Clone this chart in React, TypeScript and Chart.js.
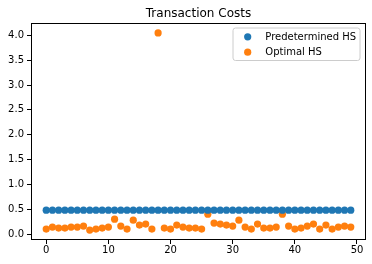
import { useEffect, useRef } from "react";
import { Chart, registerables } from "chart.js";

Chart.register(...registerables);

const chartTitle = "Transaction Costs";
const seriesNames = ["Predetermined HS", "Optimal HS"];
const seriesColors = ["#1f77b4", "#ff7f0e"];

const steps = [
  0, 1, 2, 3, 4, 5, 6, 7, 8, 9,
  10, 11, 12, 13, 14, 15, 16, 17, 18, 19,
  20, 21, 22, 23, 24, 25, 26, 27, 28, 29,
  30, 31, 32, 33, 34, 35, 36, 37, 38, 39,
  40, 41, 42, 43, 44, 45, 46, 47, 48, 49,
];

const predeterminedCosts = [
  0.48, 0.48, 0.48, 0.48, 0.48, 0.48, 0.48, 0.48, 0.48, 0.48,
  0.48, 0.48, 0.48, 0.48, 0.48, 0.48, 0.48, 0.48, 0.48, 0.48,
  0.48, 0.48, 0.48, 0.48, 0.48, 0.48, 0.48, 0.48, 0.48, 0.48,
  0.48, 0.48, 0.48, 0.48, 0.48, 0.48, 0.48, 0.48, 0.48, 0.48,
  0.48, 0.48, 0.48, 0.48, 0.48, 0.48, 0.48, 0.48, 0.48, 0.48,
];

const optimalCosts = [
  0.1, 0.14, 0.12, 0.12, 0.14, 0.14, 0.16, 0.08, 0.1, 0.12,
  0.14, 0.3, 0.16, 0.1, 0.28, 0.18, 0.2, 0.1, 4.05, 0.12,
  0.1, 0.18, 0.14, 0.12, 0.12, 0.1, 0.4, 0.22, 0.2, 0.18,
  0.16, 0.28, 0.14, 0.1, 0.2, 0.12, 0.12, 0.14, 0.4, 0.16,
  0.1, 0.12, 0.16, 0.2, 0.1, 0.18, 0.1, 0.14, 0.16, 0.14,
];

const xTickValues = [0, 10, 20, 30, 40, 50];
const yTickValues = [0, 0.5, 1, 1.5, 2, 2.5, 3, 3.5, 4];

const FONT = "'DejaVu Sans', sans-serif";

export default function App() {
  const ref = useRef<HTMLCanvasElement | null>(null);

  useEffect(() => {
    document.body.style.margin = "0";
    const canvas = ref.current;
    if (!canvas) return;

    const decorPlugin = {
      id: "decor",
      afterDraw(chart: any) {
        const { ctx, chartArea: a } = chart;
        ctx.save();
        ctx.strokeStyle = "#000";
        ctx.lineWidth = 1;
        const l = Math.round(a.left) + 0.5;
        const t = Math.round(a.top) + 0.5;
        const r = Math.round(a.right) - 0.5;
        const b = Math.round(a.bottom) - 0.5;
        ctx.strokeRect(l, t, r - l, b - t);

        ctx.fillStyle = "#000";
        ctx.font = `12px ${FONT}`;
        ctx.textAlign = "center";
        ctx.textBaseline = "alphabetic";
        ctx.fillText(chartTitle, (a.left + a.right) / 2, a.top - 6);

        const bx = a.right - 133;
        const by = a.top + 5;
        const bw = 127;
        const bh = 32.5;
        ctx.beginPath();
        const rr = 2.5;
        ctx.moveTo(bx + rr, by);
        ctx.lineTo(bx + bw - rr, by);
        ctx.arcTo(bx + bw, by, bx + bw, by + rr, rr);
        ctx.lineTo(bx + bw, by + bh - rr);
        ctx.arcTo(bx + bw, by + bh, bx + bw - rr, by + bh, rr);
        ctx.lineTo(bx + rr, by + bh);
        ctx.arcTo(bx, by + bh, bx, by + bh - rr, rr);
        ctx.lineTo(bx, by + rr);
        ctx.arcTo(bx, by, bx + rr, by, rr);
        ctx.closePath();
        ctx.fillStyle = "rgba(255,255,255,0.8)";
        ctx.fill();
        ctx.strokeStyle = "#cccccc";
        ctx.lineWidth = 1;
        ctx.stroke();

        ctx.font = `10px ${FONT}`;
        ctx.textAlign = "left";
        ctx.textBaseline = "middle";
        chart.data.datasets.forEach((ds: any, i: number) => {
          const cy = by + 8.8 + i * 15.4;
          ctx.beginPath();
          ctx.arc(bx + 14.7, cy, 3.6, 0, Math.PI * 2);
          ctx.fillStyle = ds.backgroundColor;
          ctx.fill();
          ctx.fillStyle = "#000";
          ctx.fillText(ds.label, bx + 32.3, cy + 0.5);
        });
        ctx.restore();
      },
    };

    const chart = new Chart(canvas, {
      type: "scatter",
      data: {
        datasets: [
          {
            label: seriesNames[0],
            data: steps.map((x, i) => ({ x, y: predeterminedCosts[i] })),
            backgroundColor: seriesColors[0],
            borderWidth: 0,
            pointRadius: 3.6,
          },
          {
            label: seriesNames[1],
            data: steps.map((x, i) => ({ x, y: optimalCosts[i] })),
            backgroundColor: seriesColors[1],
            borderWidth: 0,
            pointRadius: 3.6,
          },
        ],
      },
      options: {
        responsive: false,
        animation: false,
        layout: { padding: { top: 23, right: 6, left: 0, bottom: 0 } },
        plugins: {
          legend: { display: false },
          title: { display: false },
          tooltip: { enabled: false },
        },
        scales: {
          x: {
            type: "linear",
            min: -2.45,
            max: 51.45,
            afterBuildTicks: (s: any) => {
              s.ticks = xTickValues.map((v) => ({ value: v }));
            },
            afterFit: (s: any) => {
              s.height = 24;
            },
            border: { display: false },
            grid: {
              display: true,
              drawOnChartArea: false,
              drawTicks: true,
              tickLength: 4,
              color: "#000",
              lineWidth: 1,
            },
            ticks: {
              color: "#000",
              font: { family: FONT, size: 10 },
              padding: 0,
              maxRotation: 0,
              callback: (v: any) => String(v),
            },
          },
          y: {
            type: "linear",
            min: -0.12,
            max: 4.25,
            afterBuildTicks: (s: any) => {
              s.ticks = yTickValues.map((v) => ({ value: v }));
            },
            afterFit: (s: any) => {
              s.width = 31;
            },
            border: { display: false },
            grid: {
              display: true,
              drawOnChartArea: false,
              drawTicks: true,
              tickLength: 4,
              color: "#000",
              lineWidth: 1,
            },
            ticks: {
              color: "#000",
              font: { family: FONT, size: 10 },
              padding: 3,
              callback: (v: any) => Number(v).toFixed(1),
            },
          },
        },
      },
      plugins: [decorPlugin],
    } as any);

    return () => chart.destroy();
  }, []);

  return (
    <div style={{ width: 372, height: 264 }}>
      <canvas ref={ref} width={372} height={264} style={{ display: "block" }} />
    </div>
  );
}
